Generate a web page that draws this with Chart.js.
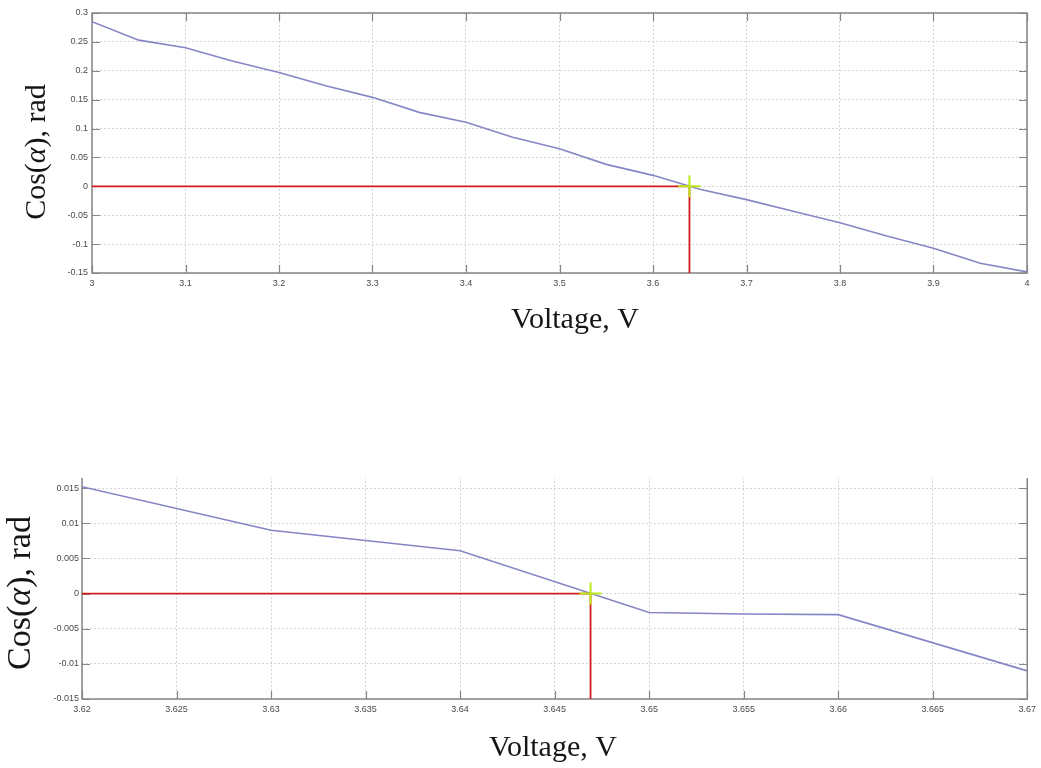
<!DOCTYPE html>
<html>
<head>
<meta charset="utf-8">
<title>Cos(α) versus voltage</title>
<script src="https://cdn.jsdelivr.net/npm/chart.js@4.4.1/dist/chart.umd.min.js"></script>
<style>
  html, body { margin: 0; padding: 0; background: #fff; width: 1041px; height: 768px; overflow: hidden; }
  #overview { position: absolute; left: 0; top: 0; }
  #detailWrap { position: absolute; left: 0; top: 478px; width: 1041px; height: 290px; overflow: hidden; }
  #detail { position: absolute; left: 0; top: -38px; }
</style>
</head>
<body>
<canvas id="overview" width="1041" height="345"></canvas>
<div id="detailWrap"><canvas id="detail" width="1041" height="328"></canvas></div>
<script>
// ---- Full sweep, 3 V to 4 V ----
const overviewVoltage = [3.00, 3.05, 3.10, 3.15, 3.20, 3.25, 3.30, 3.35, 3.40, 3.45, 3.50,
                         3.55, 3.60, 3.65, 3.70, 3.75, 3.80, 3.85, 3.90, 3.95, 4.00];
const overviewCos = [0.285, 0.253, 0.240, 0.217, 0.197, 0.174, 0.154, 0.128, 0.111, 0.085, 0.065,
                     0.038, 0.019, -0.005, -0.023, -0.043, -0.063, -0.086, -0.107, -0.133, -0.148];
const overviewZeroVoltage = 3.639;
const overviewXTicks = ['3', '3.1', '3.2', '3.3', '3.4', '3.5', '3.6', '3.7', '3.8', '3.9', '4'];
const overviewYTicks = ['-0.15', '-0.1', '-0.05', '0', '0.05', '0.1', '0.15', '0.2', '0.25', '0.3'];

// ---- Close-up around the zero crossing ----
const detailVoltage = [3.620, 3.630, 3.640, 3.650, 3.655, 3.660, 3.670];
const detailCos = [0.0152, 0.0090, 0.0061, -0.0027, -0.0029, -0.0030, -0.0110];
const detailZeroVoltage = 3.6469;
const detailXTicks = ['3.62', '3.625', '3.63', '3.635', '3.64', '3.645', '3.65', '3.655', '3.66', '3.665', '3.67'];
const detailYTicks = ['-0.015', '-0.01', '-0.005', '0', '0.005', '0.01', '0.015', '0.02'];

const xTitleText = 'Voltage, V';
const yTitleParts = [['Cos(', false], ['α', true], ['), rad', false]];

// Box around the plot with short inward tick marks on every side
const framePlugin = {
  id: 'frame',
  beforeDatasetsDraw(chart) {
    const { ctx, chartArea: a, scales } = chart;
    const len = 8;
    ctx.save();
    ctx.strokeStyle = '#858585';
    ctx.lineWidth = 1.5;
    ctx.strokeRect(a.left, a.top, a.right - a.left, a.bottom - a.top);
    ctx.lineWidth = 1.2;
    ctx.beginPath();
    scales.x.ticks.forEach(t => {
      const px = Math.round(scales.x.getPixelForValue(t.value)) + 0.5;
      ctx.moveTo(px, a.bottom); ctx.lineTo(px, a.bottom - len);
      ctx.moveTo(px, a.top); ctx.lineTo(px, a.top + len);
    });
    scales.y.ticks.forEach(t => {
      const py = Math.round(scales.y.getPixelForValue(t.value)) + 0.5;
      ctx.moveTo(a.left, py); ctx.lineTo(a.left + len, py);
      ctx.moveTo(a.right, py); ctx.lineTo(a.right - len, py);
    });
    ctx.stroke();
    ctx.restore();
  }
};

// Serif axis titles, with an italic alpha in the vertical one
const titlePlugin = {
  id: 'titles',
  afterDraw(chart, args, opts) {
    const ctx = chart.ctx;
    ctx.save();
    ctx.fillStyle = '#151515';
    ctx.textBaseline = 'middle';
    ctx.font = opts.xSize + 'px "Liberation Serif", "DejaVu Serif", serif';
    ctx.textAlign = 'center';
    ctx.fillText(xTitleText, opts.xPos[0], opts.xPos[1]);

    const fontFor = it => (it ? 'italic ' : '') + opts.ySize + 'px "Liberation Serif", "DejaVu Serif", serif';
    let total = 0;
    yTitleParts.forEach(([t, it]) => { ctx.font = fontFor(it); total += ctx.measureText(t).width; });
    ctx.translate(opts.yPos[0], opts.yPos[1]);
    ctx.rotate(-Math.PI / 2);
    ctx.textAlign = 'left';
    let x = -total / 2;
    yTitleParts.forEach(([t, it]) => {
      ctx.font = fontFor(it);
      ctx.fillText(t, x, 0);
      x += ctx.measureText(t).width;
    });
    ctx.restore();
  }
};

function buildChart(id, s) {
  const xs = s.xTicks.map(Number);
  const ys = s.yTicks.map(Number);
  const xMin = xs[0], xMax = xs[xs.length - 1];
  const yMin = ys[0], yMax = ys[ys.length - 1];
  const tickFont = { family: '"Liberation Sans", Arial, sans-serif', size: 9 };
  return new Chart(document.getElementById(id), {
    type: 'line',
    data: {
      datasets: [
        {
          data: s.voltage.map((v, i) => ({ x: v, y: s.cos[i] })),
          borderColor: '#8686c6', borderWidth: 1.6, pointRadius: 0, tension: 0, order: 3
        },
        {
          data: [{ x: xMin, y: 0 }, { x: s.zero, y: 0 }, { x: s.zero, y: yMin }],
          borderColor: '#d21c1c', borderWidth: 1.8, pointRadius: 0, tension: 0, order: 2
        },
        {
          data: [{ x: s.zero, y: 0 }],
          showLine: false, pointStyle: 'cross', pointRadius: 11,
          borderColor: '#bde81a', borderWidth: 2, order: 1
        }
      ]
    },
    options: {
      responsive: false,
      animation: false,
      events: [],
      layout: { padding: s.padding },
      plugins: {
        legend: { display: false },
        tooltip: { enabled: false },
        titles: s.titles
      },
      scales: {
        x: {
          type: 'linear', min: xMin, max: xMax,
          afterBuildTicks: sc => { sc.ticks = xs.map(v => ({ value: v })); },
          afterFit: sc => { sc.height = 20; },
          ticks: { callback: (v, i) => s.xTicks[i], font: tickFont, color: '#4a4a4a', padding: s.xPad, maxRotation: 0, autoSkip: false },
          grid: { color: '#d4d4d4', lineWidth: 1, drawTicks: false },
          border: { display: false, dash: [2, 2] }
        },
        y: {
          type: 'linear', min: yMin, max: yMax,
          afterBuildTicks: sc => { sc.ticks = ys.map(v => ({ value: v })); },
          afterFit: sc => { sc.width = s.yWidth; },
          ticks: { callback: (v, i) => s.yTicks[i], font: tickFont, color: '#4a4a4a', padding: s.yPad, autoSkip: false },
          grid: { color: '#d4d4d4', lineWidth: 1, drawTicks: false },
          border: { display: false, dash: [2, 2] }
        }
      }
    },
    plugins: [framePlugin, titlePlugin]
  });
}

buildChart('overview', {
  voltage: overviewVoltage, cos: overviewCos, zero: overviewZeroVoltage,
  xTicks: overviewXTicks, yTicks: overviewYTicks,
  padding: { top: 12, right: 14, bottom: 52, left: 0 },
  yWidth: 92, xPad: 5, yPad: 4,
  titles: { xPos: [575, 320], xSize: 30, yPos: [37, 152], ySize: 30 }
});

buildChart('detail', {
  voltage: detailVoltage, cos: detailCos, zero: detailZeroVoltage,
  xTicks: detailXTicks, yTicks: detailYTicks,
  padding: { top: 9, right: 11, bottom: 49, left: 0 },
  yWidth: 82, xPad: 5, yPad: 3,
  titles: { xPos: [553, 308], xSize: 30, yPos: [21, 153], ySize: 34 }
});
</script>
</body>
</html>
